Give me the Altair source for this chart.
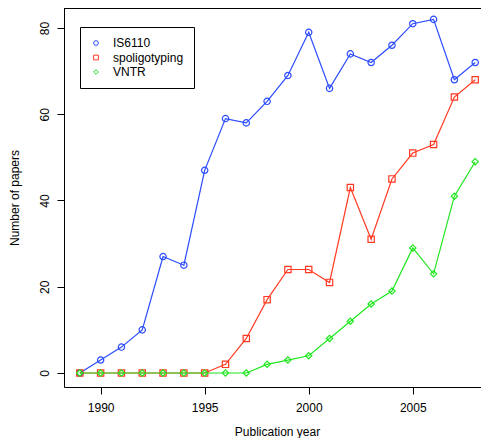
import altair as alt
import pandas as pd

years = list(range(1989, 2009))
is6110 = [0, 3, 6, 10, 27, 25, 47, 59, 58, 63, 69, 79, 66, 74, 72, 76, 81, 82, 68, 72]
spoligo = [0, 0, 0, 0, 0, 0, 0, 2, 8, 17, 24, 24, 21, 43, 31, 45, 51, 53, 64, 68]
vntr = [0, 0, 0, 0, 0, 0, 0, 0, 0, 2, 3, 4, 8, 12, 16, 19, 29, 23, 41, 49]

series_names = ["IS6110", "spoligotyping", "VNTR"]
series_colors = ["#2A4BFF", "#FF3A22", "#1FE61F"]
series_shapes = ["circle", "square", "diamond"]
x_ticks = [1990, 1995, 2000, 2005]
y_ticks = [0, 20, 40, 60, 80]

rows = []
for name, vals in zip(series_names, [is6110, spoligo, vntr]):
    for y, v in zip(years, vals):
        rows.append({"year": y, "papers": v, "series": name})
df = pd.DataFrame(rows)

FONT = "Liberation Sans"
PLOT_W = 417
PLOT_H = 379

xenc = alt.X("year:Q", scale=alt.Scale(domain=[1988.24, 2008.279], nice=False, zero=False),
             axis=alt.Axis(values=x_ticks, format="d", title="Publication year",
                           titleX=213, titleY=48, titleBaseline="alphabetic",
                           labelPadding=8, labelBaseline="top"))
yenc = alt.Y("papers:Q", scale=alt.Scale(domain=[-3.25, 84.64], nice=False, zero=False),
             axis=alt.Axis(values=y_ticks, title="Number of papers", labelAngle=270,
                           labelAlign="center", labelBaseline="alphabetic", labelPadding=9,
                           titleAngle=270, titleX=-50, titleY=189.5, titleBaseline="middle",
                           titleAlign="center"))

cscale = alt.Scale(domain=series_names, range=series_colors)
sscale = alt.Scale(domain=series_names, range=series_shapes)
leg = alt.Legend(title=None, orient="none", legendX=16, legendY=19)

lines = alt.Chart(df).mark_line(strokeWidth=1.2).encode(
    x=xenc, y=yenc,
    color=alt.Color("series:N", scale=cscale, sort=series_names, legend=leg),
)

points = alt.Chart(df).mark_point(filled=False, strokeWidth=1.2, opacity=1, size=40).encode(
    x=xenc, y=yenc,
    color=alt.Color("series:N", scale=cscale, sort=series_names, legend=leg),
    shape=alt.Shape("series:N", scale=sscale, sort=series_names, legend=leg),
)

# top border of the plot frame (frame continues past the right edge of the picture)
top_frame = alt.Chart(pd.DataFrame({"k": [0]})).mark_rule(color="black", strokeWidth=1).encode(
    x=alt.value(0), x2=alt.value(PLOT_W), y=alt.value(0.5)
)

chart = alt.layer(lines, points, top_frame).properties(
    width=PLOT_W, height=PLOT_H,
    autosize=alt.AutoSizeParams(type="none"),
    padding={"left": 56, "top": 0, "right": 0, "bottom": 51},
).configure_view(
    stroke=None
).configure_axis(
    domain=True, domainColor="black", domainWidth=1, grid=False,
    tickColor="black", tickSize=7, tickWidth=1,
    labelFont=FONT, labelFontSize=12, labelColor="black",
    titleFont=FONT, titleFontSize=12, titleColor="black", titleFontWeight="normal",
).configure_legend(
    strokeColor="black", fillColor="white", padding=10, labelFont=FONT, labelFontSize=12,
    labelColor="black", symbolSize=22, symbolStrokeWidth=1, labelOffset=11, rowPadding=2.5,
    cornerRadius=0
)

chart.save("out.html", embed_options={"renderer": "svg", "actions": False})
